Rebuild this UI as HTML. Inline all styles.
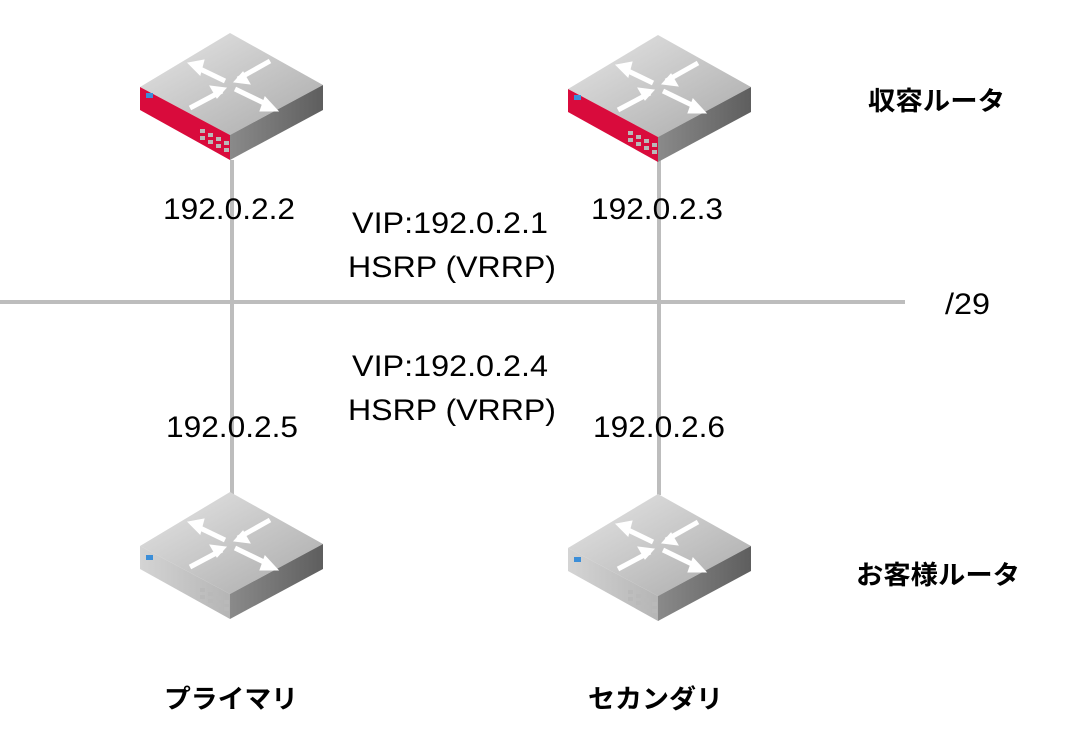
<!DOCTYPE html>
<html><head><meta charset="utf-8"><style>
body{margin:0;background:#fff}
svg{display:block}
text{font-family:"Liberation Sans","Noto Sans CJK JP",sans-serif;fill:#000}
</style></head><body>
<svg width="1072" height="734" viewBox="0 0 1072 734">
<defs>
<linearGradient id="tg" x1="0" y1="0" x2="1" y2="1"><stop offset="0" stop-color="#e6e6e6"/><stop offset="1" stop-color="#a9a9a9"/></linearGradient>
<linearGradient id="rg" x1="0" y1="0" x2="1" y2="0"><stop offset="0" stop-color="#8a8a8a"/><stop offset="1" stop-color="#5e5e5e"/></linearGradient>
<linearGradient id="lg" x1="0" y1="0" x2="1" y2="0"><stop offset="0" stop-color="#d4d4d4"/><stop offset="1" stop-color="#b5b5b5"/></linearGradient>
<g id="top">
<polygon points="0,0 93,52 0,102 -90,54" fill="url(#tg)"/>
<polygon points="0,102 93,52 93,77 0,127" fill="url(#rg)"/>
<g stroke="#fff" stroke-width="5" fill="#fff">
<line x1="-5" y1="48" x2="-32" y2="35"/><polygon points="-42,30 -26,27 -30,42" stroke-width="1"/>
<line x1="5" y1="56" x2="38" y2="72"/><polygon points="48,78 30,78 35,64" stroke-width="1"/>
<line x1="8" y1="46" x2="40" y2="28"/>
<line x1="-8" y1="58" x2="-40" y2="75"/>
<polygon points="-4,55 -20,53 -13,65" stroke-width="1"/>
<polygon points="4,49 20,51 13,39" stroke-width="1"/>
</g>
</g>
<g id="grid">
<g fill="#b9b9b9">
<rect x="60" y="96" width="5" height="4"/><rect x="68" y="100" width="5" height="4"/><rect x="76" y="104" width="5" height="4"/><rect x="84" y="108" width="5" height="4"/>
<rect x="60" y="103" width="5" height="4"/><rect x="68" y="107" width="5" height="4"/><rect x="76" y="111" width="5" height="4"/><rect x="84" y="115" width="5" height="4"/>
</g>
</g>
<g id="red">
<use href="#top"/>
<polygon points="-90,54 0,102 0,127 -90,77" fill="#d90b3c"/>
<g transform="translate(-90,0)"><rect x="6" y="60" width="7" height="5" fill="#3b8ed8"/><use href="#grid"/></g>
</g>
<g id="gray">
<use href="#top"/>
<polygon points="-90,54 0,102 0,127 -90,77" fill="url(#lg)"/>
<g transform="translate(-90,0)"><rect x="6" y="63" width="7" height="5" fill="#3b8ed8"/><use href="#grid"/></g>
</g>
</defs>
<g stroke="#bdbdbd" stroke-width="4">
<line x1="0" y1="302" x2="905" y2="302"/>
<line x1="232" y1="160" x2="232" y2="495"/>
<line x1="659" y1="160" x2="659" y2="495"/>
</g>
<use href="#red" x="230" y="33"/>
<use href="#red" x="658" y="35"/>
<use href="#gray" x="230" y="492"/>
<use href="#gray" x="658" y="494"/>
<g font-size="30">
<text x="163" y="219" textLength="132" lengthAdjust="spacingAndGlyphs">192.0.2.2</text>
<text x="591" y="219" textLength="132" lengthAdjust="spacingAndGlyphs">192.0.2.3</text>
<text x="352" y="233" textLength="196" lengthAdjust="spacingAndGlyphs">VIP:192.0.2.1</text>
<text x="348" y="277" textLength="208" lengthAdjust="spacingAndGlyphs">HSRP (VRRP)</text>
<text x="945" y="314" textLength="45" lengthAdjust="spacingAndGlyphs">/29</text>
<text x="352" y="376" textLength="196" lengthAdjust="spacingAndGlyphs">VIP:192.0.2.4</text>
<text x="348" y="420" textLength="208" lengthAdjust="spacingAndGlyphs">HSRP (VRRP)</text>
<text x="166" y="437" textLength="132" lengthAdjust="spacingAndGlyphs">192.0.2.5</text>
<text x="593" y="437" textLength="132" lengthAdjust="spacingAndGlyphs">192.0.2.6</text>
</g>
<g font-size="26" font-weight="bold">
<text x="868" y="110" textLength="137" lengthAdjust="spacingAndGlyphs">収容ルータ</text>
<text x="856" y="584" textLength="164" lengthAdjust="spacingAndGlyphs">お客様ルータ</text>
<text x="164" y="708" textLength="134" lengthAdjust="spacingAndGlyphs">プライマリ</text>
<text x="588" y="708" textLength="135" lengthAdjust="spacingAndGlyphs">セカンダリ</text>
</g>
</svg>
</body></html>
